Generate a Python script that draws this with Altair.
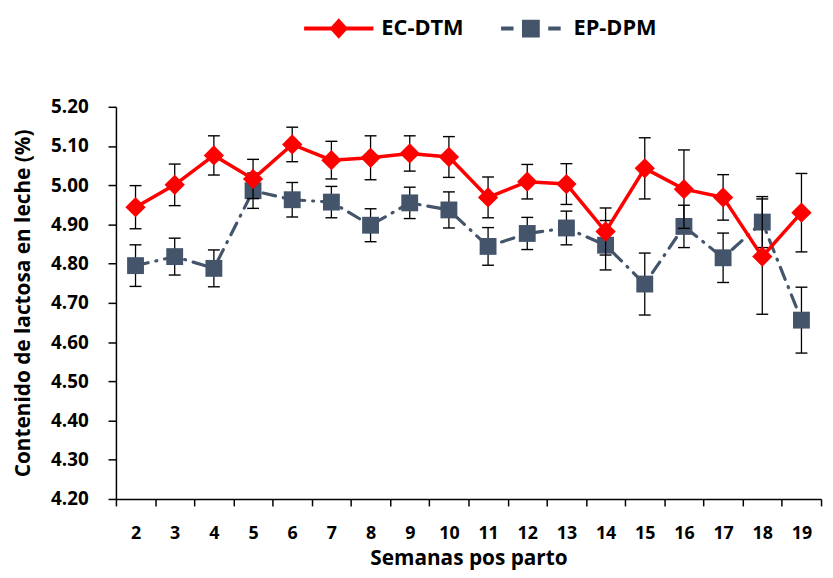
import altair as alt
import pandas as pd

weeks = list(range(2, 20))
ec_dtm = [4.944, 5.001, 5.076, 5.016, 5.104, 5.064, 5.070, 5.081, 5.072, 4.969,
          5.009, 5.003, 4.882, 5.043, 4.990, 4.969, 4.818, 4.930]
ec_err = [0.055, 0.053, 0.050, 0.050, 0.044, 0.048, 0.056, 0.045, 0.052, 0.052,
          0.044, 0.052, 0.060, 0.078, 0.100, 0.058, 0.147, 0.100]
ep_dpm = [4.795, 4.818, 4.788, 4.986, 4.963, 4.957, 4.898, 4.955, 4.937, 4.844,
          4.877, 4.891, 4.847, 4.748, 4.895, 4.815, 4.906, 4.656]
ep_err = [0.053, 0.047, 0.047, 0.045, 0.044, 0.040, 0.042, 0.040, 0.046, 0.048,
          0.041, 0.043, 0.063, 0.079, 0.054, 0.063, 0.065, 0.084]

series_names = ["EC-DTM", "EP-DPM"]
series_colors = ["#FF0000", "#44546A"]

rows = []
for w, v, e in zip(weeks, ec_dtm, ec_err):
    rows.append({"week": w, "series": "EC-DTM", "value": v, "err": e})
for w, v, e in zip(weeks, ep_dpm, ep_err):
    rows.append({"week": w, "series": "EP-DPM", "value": v, "err": e})
df = pd.DataFrame(rows)

FONT = "Open Sans"

x_enc = alt.X(
    "week:O",
    scale=alt.Scale(type="band", paddingInner=0, paddingOuter=0),
    axis=alt.Axis(
        title="Semanas pos parto",
        tickBand="extent",
        labelAngle=0,
        labelPadding=19,
        labelFontSize=18,
        tickSize=7,
        titlePadding=5,
    ),
)
y_scale = alt.Scale(domain=[4.2, 5.2], nice=False, zero=False)
y_axis = alt.Axis(
    title="Contenido de lactosa en leche (%)",
    values=[4.2, 4.3, 4.4, 4.5, 4.6, 4.7, 4.8, 4.9, 5.0, 5.1, 5.2],
    format=".2f",
    tickSize=8,
    labelPadding=20,
    titlePadding=17,
)

red_path = "M-1,0H1M-0.19,0L0,-0.21L0.19,0L0,0.21Z"
blue_path = "M-0.86,0H-0.5M0.5,0H0.86M-0.2,-0.2H0.2V0.2H-0.2Z"
paths = {"EC-DTM": red_path, "EP-DPM": blue_path}
leg_x = {"EC-DTM": 188, "EP-DPM": 382}

base = alt.Chart(df)


def series_layers(name, color, dash, shape, size):
    src = base.transform_filter(alt.datum.series == name).transform_calculate(
        lo="datum.value - datum.err", hi="datum.value + datum.err"
    )
    rule = src.mark_rule(color="black", strokeWidth=1.3).encode(
        x=x_enc, y=alt.Y("lo:Q", scale=y_scale, axis=y_axis), y2="hi:Q"
    )
    cap_lo = src.mark_tick(color="black", size=12, thickness=1.4, opacity=1).encode(
        x=x_enc, y=alt.Y("lo:Q", scale=y_scale, axis=y_axis)
    )
    cap_hi = src.mark_tick(color="black", size=12, thickness=1.4, opacity=1).encode(
        x=x_enc, y=alt.Y("hi:Q", scale=y_scale, axis=y_axis)
    )
    line_kwargs = dict(color=color, strokeWidth=3.5 if dash is None else 3.2, strokeCap="round")
    if dash is not None:
        line_kwargs["strokeDash"] = dash
    line = src.mark_line(**line_kwargs).encode(
        x=x_enc, y=alt.Y("value:Q", scale=y_scale, axis=y_axis)
    )
    legend = alt.Legend(
        title=None,
        orient="none",
        legendX=leg_x[name],
        legendY=-116,
        symbolType=paths[name],
        symbolSize=4900,
        symbolFillColor=color,
        symbolStrokeColor=color,
        symbolStrokeWidth=4,
        symbolOpacity=1,
        labelFont=FONT,
        labelFontSize=22,
        labelFontWeight="bold",
        labelColor="black",
        labelOffset=6,
    )
    pts = src.mark_point(filled=True, opacity=1, size=size, strokeWidth=0, shape=shape).encode(
        x=x_enc,
        y=alt.Y("value:Q", scale=y_scale, axis=y_axis),
        color=alt.Color("series:N", scale=alt.Scale(domain=[name], range=[color]), legend=legend),
    )
    return alt.layer(rule, cap_lo, cap_hi, line, pts)


blue = series_layers("EP-DPM", "#44546A", [13, 8, 1, 8], "square", 290)
red = series_layers("EC-DTM", "#FF0000", None, "diamond", 420)

chart = alt.layer(blue, red).resolve_scale(color="independent").properties(
    width=712,
    height=396,
    background="white",
    autosize=alt.AutoSizeParams(type="none"),
    padding={"left": 109, "top": 97, "right": 4, "bottom": 72},
).configure_view(stroke=None).configure_axis(
    domainColor="black",
    domainWidth=1.5,
    tickColor="black",
    tickWidth=1.5,
    grid=False,
    labelFont=FONT,
    labelFontSize=19,
    labelFontWeight="bold",
    labelColor="black",
    titleFont=FONT,
    titleFontSize=21,
    titleFontWeight="bold",
    titleColor="black",
)

chart.save("out.html", embed_options={"renderer": "svg", "actions": False})
